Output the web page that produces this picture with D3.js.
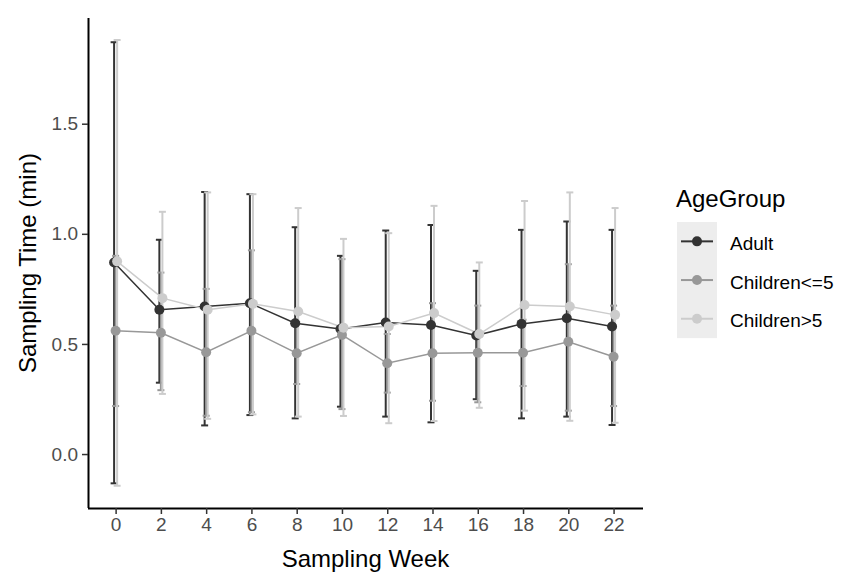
<!DOCTYPE html>
<html><head><meta charset="utf-8">
<script src="https://cdn.jsdelivr.net/npm/d3@7"></script>
<style>body{margin:0;background:#fff}svg{display:block;font-family:"Liberation Sans",Arial,sans-serif}</style>
</head><body>
<script>
const weeks = [0,2,4,6,8,10,12,14,16,18,20,22];
const groups = ["Adult","Children<=5","Children>5"];
const colors = ["#333333","#989898","#CCCCCC"];
const adultMean = [0.870,0.655,0.670,0.685,0.594,0.568,0.597,0.586,0.538,0.591,0.617,0.579];
const adultLo   = [-0.133,0.324,0.130,0.177,0.162,0.215,0.170,0.144,0.249,0.162,0.170,0.132];
const adultHi   = [1.870,0.973,1.190,1.180,1.030,0.900,1.015,1.040,0.832,1.018,1.056,1.018];
const c5Mean = [0.560,0.551,0.462,0.560,0.458,0.541,0.412,0.458,0.460,0.460,0.510,0.442];
const c5Lo   = [0.218,0.290,0.174,0.190,0.318,0.204,0.279,0.242,0.235,0.309,0.197,0.218];
const c5Hi   = [0.900,0.824,0.750,0.925,0.600,0.885,0.545,0.685,0.674,0.610,0.862,0.674];
const cOMean = [0.875,0.708,0.655,0.682,0.647,0.574,0.579,0.640,0.545,0.677,0.670,0.632];
const cOLo   = [-0.144,0.273,0.160,0.180,0.170,0.173,0.140,0.150,0.210,0.197,0.151,0.142];
const cOHi   = [1.880,1.100,1.188,1.180,1.117,0.977,1.003,1.127,0.870,1.149,1.188,1.117];
const yTicks = [0.0,0.5,1.0,1.5];

(function(){
const series = [
  {name:groups[0], color:colors[0], mean:adultMean, lo:adultLo, hi:adultHi},
  {name:groups[1], color:colors[1], mean:c5Mean, lo:c5Lo, hi:c5Hi},
  {name:groups[2], color:colors[2], mean:cOMean, lo:cOLo, hi:cOHi}
];
const dodge = 0.2;

const W = 849, H = 585;
const svg = d3.select("body").append("svg").attr("width",W).attr("height",H);
const pL = 88, pR = 643, pT = 18, pB = 508;

const x = d3.scaleLinear().domain([-1.22, 23.3]).range([pL, pR]);
const y = d3.scaleLinear().domain([-0.245, 1.98]).range([pB, pT]);

const off = i => (i - 1) * dodge / 3;

// error bars
const capHalf = 3.5;
series.forEach((s, si) => {
  const g = svg.append("g");
  weeks.forEach((w, i) => {
    const cx = x(w + off(si));
    g.append("line").attr("x1",cx).attr("x2",cx).attr("y1",y(s.lo[i])).attr("y2",y(s.hi[i]))
      .attr("stroke",s.color).attr("stroke-width",2);
    [s.lo[i], s.hi[i]].forEach(v => {
      g.append("line").attr("x1",cx-capHalf).attr("x2",cx+capHalf).attr("y1",y(v)).attr("y2",y(v))
        .attr("stroke",s.color).attr("stroke-width",2);
    });
  });
});
// lines
series.forEach((s, si) => {
  const line = d3.line().x((d,i) => x(weeks[i] + off(si))).y(d => y(d));
  svg.append("path").attr("d", line(s.mean)).attr("fill","none").attr("stroke",s.color).attr("stroke-width",1.5);
});
// points
series.forEach((s, si) => {
  svg.append("g").selectAll("circle").data(s.mean).join("circle")
    .attr("cx",(d,i) => x(weeks[i] + off(si))).attr("cy", d => y(d)).attr("r",5).attr("fill",s.color);
});

// axes
const xAxis = d3.axisBottom(x).tickValues(weeks).tickSize(6).tickPadding(4).tickFormat(d3.format("d"));
const gx = svg.append("g").attr("transform",`translate(0,${pB})`).call(xAxis);
const yAxis = d3.axisLeft(y).tickValues(yTicks).tickSize(6).tickPadding(4).tickFormat(d3.format(".1f"));
const gy = svg.append("g").attr("transform",`translate(${pL},0)`).call(yAxis);
[gx, gy].forEach(g => {
  g.select(".domain").attr("stroke","#000").attr("stroke-width",2);
  g.selectAll(".tick line").attr("stroke","#333333").attr("stroke-width",1.5);
  g.selectAll(".tick text").attr("fill","#4D4D4D").style("font-size","19px").style("font-family","Liberation Sans, Arial, sans-serif");
});
gx.select(".domain").attr("d",`M${pL},0.5H${pR}`);
gy.select(".domain").attr("d",`M0.5,${pT}V${pB}`);

svg.append("text").attr("x",(pL+pR)/2).attr("y",567).attr("text-anchor","middle")
  .style("font-size","24px").attr("fill","#000").text("Sampling Week");
svg.append("text").attr("transform",`translate(36,${(pT+pB)/2}) rotate(-90)`).attr("text-anchor","middle")
  .style("font-size","24px").attr("fill","#000").text("Sampling Time (min)");

// legend
const lg = svg.append("g");
lg.append("text").attr("x",676).attr("y",207).style("font-size","24px").attr("fill","#000").text("AgeGroup");
const keyH = 38.7, keyTop = 222;
lg.append("rect").attr("x",677).attr("y",keyTop).attr("width",40).attr("height",keyH*3).attr("fill","#EDEDED");
series.forEach((s, si) => {
  const cy = keyTop + keyH*si + keyH/2;
  lg.append("line").attr("x1",681).attr("x2",713).attr("y1",cy).attr("y2",cy).attr("stroke",s.color).attr("stroke-width",2);
  lg.append("circle").attr("cx",697).attr("cy",cy).attr("r",5).attr("fill",s.color);
  lg.append("text").attr("x",730).attr("y",cy + 2).attr("dy","0.35em").style("font-size","19px").attr("fill","#000").text(s.name);
});
})();
</script>
</body></html>
